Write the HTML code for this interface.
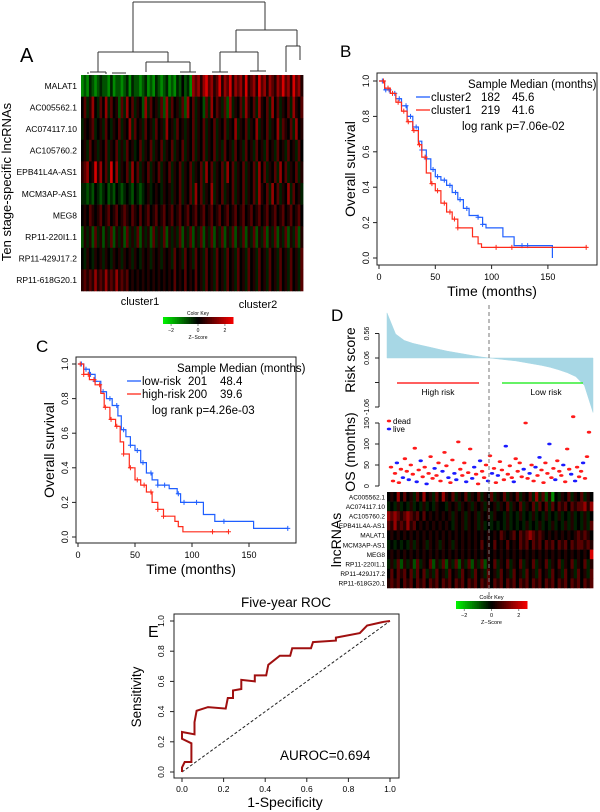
<!DOCTYPE html>
<html><head><meta charset="utf-8">
<style>
html,body{margin:0;padding:0;background:#fff;}
svg{display:block;font-family:"Liberation Sans",Arial,sans-serif;}
</style></head>
<body>
<svg id="fig" width="600" height="812" viewBox="0 0 600 812" xmlns="http://www.w3.org/2000/svg">
<g id="A">
 <text x="20" y="62" font-size="20">A</text>
 <g stroke="#333" stroke-width="1" fill="none">
  <path d="M133,2H265 M133,2V52 M98,52H168 M98,52V72 M168,52V62 M146,62H190 M146,62V72 M190,62V72 M265,2V30 M236,30H297 M236,30V52 M220,52H258 M220,52V72 M258,52V71 M297,30V46 M286,46H300 M286,46V72 M300,46V60 M90,72H106 M112,73H126 M180,72H196 M212,72H228 M250,71H266 M88,74V72 M106,74V72"/>
 </g>
 <g id="hmA"></g>
 <g id="hmAlabels" font-size="8.5" text-anchor="end"></g>
 <text transform="translate(11,182) rotate(-90)" font-size="13" text-anchor="middle">Ten stage-specific lncRNAs</text>
 <text x="140" y="305" font-size="11" text-anchor="middle">cluster1</text>
 <text x="258" y="308" font-size="11" text-anchor="middle">cluster2</text>
 <g id="keyA"></g>
</g>
<g id="B">
 <text x="340" y="57" font-size="17">B</text>
</g>
<g id="C">
 <text x="36" y="352" font-size="17">C</text>
</g>
<g id="D">
 <text x="331" y="321" font-size="17">D</text>
</g>
<g id="E">
 <text x="148" y="637" font-size="16">E</text>
</g>
</svg>
<script>
// ---------- DATA ----------
const hmARows = ["MALAT1","AC005562.1","AC074117.10","AC105760.2","EPB41L4A-AS1","MCM3AP-AS1","MEG8","RP11-220I1.1","RP11-429J17.2","RP11-618G20.1"];
const hmAValues = [
 "121321232213122123132212312132123121324231767578675685768576758567586757657686758675",
 "463574364736452637463542736453627364536274635426374653627354637546375463746354637546",
 "354563453643546354736453645364537453645354635463546354635473546354735463547365463745",
 "453645354635463536453463546354635463546354635463546353645364536453645364536453645364",
 "567458574638473546374635463546354635463546354637463546374635463546374635463746354635",
 "332324323423243234324323453454354535463546374635473546354635463546375463746354736453",
 "454654564564564565465464564564564564564564564564564564564564564564564564564564564564",
 "253526352536253526353625352635362535362536253625362536253625362536253625362536253625",
 "435435453543545354535435453545354536453645364536453645364536453645364536453645364536",
 "565657565756575656454545454545454546454645464536453645364536453645364536453645364536"];
const kmBTime2 = [0,5,10,15,20,25,30,35,38,42,46,50,55,60,65,70,75,80,88,92,95,108,110,120,154,154];
const kmBSurv2 = [1,0.95,0.93,0.9,0.86,0.8,0.74,0.66,0.61,0.56,0.5,0.46,0.44,0.41,0.37,0.33,0.28,0.24,0.23,0.19,0.17,0.17,0.12,0.07,0.07,0.0];
const kmBTime1 = [0,5,10,15,20,25,30,35,38,42,46,50,55,60,65,70,80,83,88,91,185];
const kmBSurv1 = [1,0.96,0.93,0.88,0.83,0.77,0.72,0.64,0.57,0.48,0.42,0.38,0.31,0.26,0.22,0.17,0.17,0.12,0.08,0.06,0.06];
const kmBCens2 = [3,6,9,14,18,24,28,33,38,42,48,52,58,63,68,72,78,88,92,127,132];
const kmBCens1 = [4,8,12,17,22,26,31,36,41,47,52,58,63,67,70,104,118,184];
const kmCTime1 = [0,5,10,15,20,25,30,35,38,42,46,50,55,60,65,70,80,87,90,105,110,120,154,154,184];
const kmCSurv1 = [1,0.97,0.94,0.9,0.84,0.8,0.76,0.7,0.62,0.58,0.53,0.5,0.43,0.37,0.33,0.3,0.28,0.25,0.2,0.2,0.13,0.09,0.09,0.05,0.05];
const kmCTime2 = [0,5,10,15,20,23,28,33,37,40,45,50,55,60,65,70,75,85,88,92,132];
const kmCSurv2 = [1,0.94,0.91,0.88,0.83,0.75,0.68,0.64,0.55,0.48,0.4,0.33,0.3,0.26,0.2,0.16,0.12,0.09,0.06,0.03,0.03];
const kmCCens1 = [3,7,11,15,22,28,34,40,46,52,57,64,70,76,88,93,104,128,184];
const kmCCens2 = [2,5,9,14,19,24,29,34,40,46,52,58,64,70,75,118,132];
const riskValues = [0.98,0.55,0.42,0.36,0.32,0.28,0.24,0.2,0.17,0.14,0.11,0.08,0.06,0.04,0.02,0.0,-0.03,-0.06,-0.09,-0.13,-0.18,-0.24,-0.32,-0.5,-1.05];
const riskTicks = [0.56,0.06,-0.44,-0.94];
const riskTickLabels = ["0.56","0.06","","-1.06"];
const osValues = [45,12,30,55,8,40,20,65,35,15,50,28,90,10,38,60,22,45,5,30,70,18,42,25,55,12,35,80,48,20,8,62,30,15,105,40,25,55,10,32,88,18,45,28,5,60,35,20,50,12,72,30,42,8,25,58,38,15,95,28,48,20,10,65,35,55,22,40,150,18,30,50,12,45,25,68,38,8,55,30,100,20,42,15,60,35,25,50,10,88,40,28,165,12,45,22,35,55,18,70,128];
const osStatus = "1110110110111010110111011101101100111101100110111010110111011101111011011010111101101110111010111011";
const osTicks = [0,50,100,150];
const hmDRows = ["AC005562.1","AC074117.10","AC105760.2","EPB41L4A-AS1","MALAT1","MCM3AP-AS1","MEG8","RP11-220I1.1","RP11-429J17.2","RP11-618G20.1"];
const hmDValues = [
 "4547464536474536475463546354635463546354635463736251435463546354",
 "3435343534353435443545354535453545354635463546364636465646566757",
 "7676567656464545454535453545354535443534353435343534353435343534",
 "6575657564545454545435453545353434343534343534353435343535343536",
 "4545454545454545454545454545454545465456465676565454545454565654",
 "3434343535453545354535454545464546454645465646564656465646566565",
 "4545454545454545454545454545454545454545454545454545454545454548",
 "3536253526354625362536253625362546354635463546354635463546354635",
 "4646564636463536453645364536453645364536453645364536453645364536",
 "5656465646564656465646564656465646564656465646564656465646564656"];
const rocFpr = [0,0,0.013,0.045,0.045,0,0,0.06,0.06,0.07,0.125,0.21,0.22,0.245,0.245,0.285,0.285,0.35,0.35,0.405,0.415,0.47,0.52,0.53,0.62,0.63,0.74,0.74,0.855,0.89,0.97,1];
const rocTpr = [0,0.03,0.066,0.066,0.19,0.22,0.265,0.25,0.33,0.405,0.43,0.42,0.49,0.49,0.54,0.55,0.61,0.6,0.64,0.64,0.71,0.77,0.77,0.82,0.82,0.86,0.87,0.89,0.92,0.97,0.995,1];
const keyTicks = [-2,0,2];

// ---------- helpers ----------
const NS="http://www.w3.org/2000/svg";
function mk(tag,attrs,parent){const e=document.createElementNS(NS,tag);for(const k in attrs)e.setAttribute(k,attrs[k]);parent.appendChild(e);return e;}
function zcol(c){const v=(c-4)/4;if(v<0){return "rgb(0,"+Math.round(200*Math.pow(-v,1.3))+",0)";}return "rgb("+Math.round(215*Math.pow(v,1.3))+",0,0)";}
function keycol(c){const v=(c-4)/4;if(v<0){return "rgb(0,"+Math.round(240*(-v))+",0)";}return "rgb("+Math.round(240*v)+",0,0)";}
function heat(g,rows,x0,x1,y0,y1){
 const rh=(y1-y0)/rows.length;
 rows.forEach((s,r)=>{const cw=(x1-x0)/s.length;
  for(let i=0;i<s.length;i++){const el=mk("rect",{x:(x0+i*cw).toFixed(2),y:(y0+r*rh).toFixed(2),width:(cw+0.4).toFixed(2),height:(rh+0.3).toFixed(2),fill:zcol(+s[i])},g);
   
   }
 });
}
function colorKey(g,x0,x1,y0,y1,fs){
 const n=40;for(let i=0;i<n;i++){const el=mk("rect",{x:x0+(x1-x0)*i/n,y:y0,width:(x1-x0)/n+0.5,height:y1-y0,fill:keycol(i*8/(n-1))},g);
  
  }
 const t=mk("text",{x:(x0+x1)/2,y:y0-2,"font-size":fs,"text-anchor":"middle"},g);t.textContent="Color Key";
 
 
 keyTicks.forEach(v=>{const x=x0+(x1-x0)*(v+2.6)/5.2;
  mk("line",{x1:x,x2:x,y1:y1,y2:y1+2,stroke:"#444","stroke-width":0.6},g);
  const tt=mk("text",{x:x,y:y1+8,"font-size":fs,"text-anchor":"middle"},g);tt.textContent=String(v).replace("-","−");
  
  });
 const z=mk("text",{x:(x0+x1)/2,y:y1+15,"font-size":fs,"text-anchor":"middle"},g);z.textContent="Z−Score";
 
 
}
function stepPath(T,S,xs,ys){let d="M"+xs(T[0])+","+ys(S[0]);for(let i=1;i<T.length;i++){d+="H"+xs(T[i]).toFixed(1)+"V"+ys(S[i]).toFixed(1);}return d;}
function survAt(T,S,t){let s=S[0];for(let i=0;i<T.length;i++){if(T[i]<=t)s=S[i];}return s;}
function txt(g,x,y,s,fs,anchor,name,rot){const a={x:x,y:y,"font-size":fs,"text-anchor":anchor||"start"};if(rot)a.transform="rotate(-90 "+x+" "+y+")";const t=mk("text",a,g);t.textContent=s;return t;}

// ---------- Panel A ----------
(function(){
 const g=document.getElementById("hmA");heat(g,hmAValues,81,303,75,291);
 const lg=document.getElementById("hmAlabels");const rh=216/hmARows.length;
 hmARows.forEach((n,i)=>{const t=mk("text",{x:77,y:75+rh*(i+0.5)+3},lg);t.textContent=n;});
 colorKey(document.getElementById("keyA"),163,233,317,324,5);
})();

// ---------- KM ----------
function km(gid,box,xs,ys,series,legend){
 const g=document.getElementById(gid);
 const b=mk("rect",{x:box[0],y:box[1],width:box[2]-box[0],height:box[3]-box[1],fill:"none",stroke:"#222","stroke-width":1},g);
 
 [0,50,100,150].forEach(v=>{const x=xs(v);mk("line",{x1:x,x2:x,y1:box[3],y2:box[3]+4,stroke:"#222"},g);txt(g,x,box[3]+15,String(v),9,"middle","x-tick-label");});
 [0,0.2,0.4,0.6,0.8,1.0].forEach(v=>{const y=ys(v);mk("line",{x1:box[0],x2:box[0]-4,y1:y,y2:y,stroke:"#222"},g);txt(g,box[0]-8,y,v.toFixed(1),9,"middle","y-tick-label",true);});
 txt(g,(box[0]+box[2])/2+5,box[3]+31,"Time (months)",14,"middle","x-axis-title");
 txt(g,box[0]-22,(box[1]+box[3])/2,"Overall survival",14,"middle","y-axis-title",true);
 series.forEach(s=>{
  const p=mk("path",{d:stepPath(s.T,s.S,xs,ys),fill:"none",stroke:s.c,"stroke-width":1.2},g);
  
  s.cens.forEach(t=>{const x=xs(t),y=ys(survAt(s.T,s.S,t));
   const m=mk("path",{d:"M"+(x-2.5)+","+y+"H"+(x+2.5)+"M"+x+","+(y-2.5)+"V"+(y+2.5),stroke:s.c,"stroke-width":1},g);
   });
 });
 const L=legend;
 txt(g,L.x0,L.y0,"Sample Median (months)",11.5,"start","legend-header");
 L.rows.forEach((r,i)=>{const y=L.y0+13*(i+1);
  mk("line",{x1:L.lx,x2:L.lx+14,y1:y-4,y2:y-4,stroke:r.c,"stroke-width":1.3},g);
  txt(g,L.lx+15,y,r.n,11.5,"start","legend-entry");txt(g,L.nx,y,r.a,11.5,"start","legend-count");txt(g,L.mx,y,r.m,11.5,"start","legend-median");});
 txt(g,L.px,L.y0+13*3+3,L.p,11.5,"start","log-rank-p");
}
km("B",[377,73,597,265],t=>379+t*1.126,s=>258-s*177,[
 {T:kmBTime2,S:kmBSurv2,c:"#1f5fff",cens:kmBCens2,name:"cluster2"},
 {T:kmBTime1,S:kmBSurv1,c:"#ff2a1a",cens:kmBCens1,name:"cluster1"}],
 {x0:468,y0:88,lx:416,nx:481,mx:512,px:462,p:"log rank p=7.06e-02",rows:[{n:"cluster2",a:"182",m:"45.6",c:"#1f5fff"},{n:"cluster1",a:"219",m:"41.6",c:"#ff2a1a"}]});
km("C",[76,357,296,543],t=>78+t*1.14,s=>537-s*173,[
 {T:kmCTime1,S:kmCSurv1,c:"#1f5fff",cens:kmCCens1,name:"low-risk"},
 {T:kmCTime2,S:kmCSurv2,c:"#ff2a1a",cens:kmCCens2,name:"high-risk"}],
 {x0:177,y0:372,lx:127,nx:188,mx:220,px:152,p:"log rank p=4.26e-03",rows:[{n:"low-risk",a:"201",m:"48.4",c:"#1f5fff"},{n:"high-risk",a:"200",m:"39.6",c:"#ff2a1a"}]});

// ---------- Panel D ----------
(function(){
 const g=document.getElementById("D");
 const X0=387,X1=593;
 const ry=v=>358-(v-0.06)*49;
 let d="M"+X0+","+ry(0.06);
 riskValues.forEach((v,i)=>{d+="L"+(X0+(X1-X0)*i/(riskValues.length-1)).toFixed(1)+","+ry(v).toFixed(1);});
 d+="L"+X1+","+ry(0.06)+"Z";
 const a=mk("path",{d:d,fill:"#a7d7e5",stroke:"#a7d7e5","stroke-width":0.5},g);
 
 mk("line",{x1:379,x2:379,y1:ry(riskTicks[0]),y2:ry(riskTicks[3]),stroke:"#222"},g);
 riskTicks.forEach((v,i)=>{const y=ry(v);mk("line",{x1:379,x2:375,y1:y,y2:y,stroke:"#222"},g);txt(g,369,y,riskTickLabels[i],7,"middle","risk-tick-label",true);});
 txt(g,355,360,"Risk score",14,"middle","risk-score-axis-title",true);
 mk("line",{x1:397,x2:479,y1:383,y2:383,stroke:"#ff2a2a","stroke-width":1.5},g);
 mk("line",{x1:502,x2:583,y1:383,y2:383,stroke:"#33ee33","stroke-width":1.5},g);
 txt(g,438,395,"High risk",8.5,"middle","high-risk-label");
 txt(g,546,395,"Low risk",8.5,"middle","low-risk-label");
 const oy=v=>486-v*0.42;
 mk("line",{x1:379,x2:379,y1:oy(0),y2:oy(150),stroke:"#222"},g);
 osTicks.forEach(v=>{const y=oy(v);mk("line",{x1:379,x2:375,y1:y,y2:y,stroke:"#222"},g);txt(g,369,y,String(v),7,"middle","os-tick-label",true);});
 txt(g,355,452,"OS (months)",14,"middle","os-axis-title",true);
 osValues.forEach((v,i)=>{const x=X0+4+(X1-X0-8)*i/(osValues.length-1);const dead=osStatus.charAt(i)!=="0";
  const e=mk("ellipse",{cx:x.toFixed(1),cy:oy(v).toFixed(1),rx:2.2,ry:1.4,fill:dead?"#ff1a1a":"#1a1aff"},g);
  });
 mk("ellipse",{cx:389,cy:421,rx:2.2,ry:1.4,fill:"#ff1a1a"},g);txt(g,393,424,"dead",8,"start","legend-dead");
 mk("ellipse",{cx:389,cy:429,rx:2.2,ry:1.4,fill:"#1a1aff"},g);txt(g,393,432,"live",8,"start","legend-live");
 const hg=mk("g",{},g);
 heat(hg,hmDValues,X0,X1,492,588);
 const rh=96/hmDRows.length;
 hmDRows.forEach((n,i)=>txt(g,385,492+rh*(i+0.5)+2.5,n,6.5,"end","heatmap-d-row-label"));
 txt(g,341,540,"lncRNAs",14,"middle","lncrnas-axis-title",true);
 const dl=mk("line",{x1:489,x2:489,y1:305,y2:598,stroke:"#777","stroke-width":1,"stroke-dasharray":"4,3"},g);
 
 const kg=mk("g",{},g);
 colorKey(kg,456,527,601,609,5.5);
})();

// ---------- Panel E ----------
(function(){
 const g=document.getElementById("E");
 const xs=f=>182+f*208, ys=t=>772-t*151;
 const b=mk("rect",{x:174,y:614,width:225,height:164,fill:"none",stroke:"#222"},g);
 
 [0,0.2,0.4,0.6,0.8,1.0].forEach(v=>{
  mk("line",{x1:xs(v),x2:xs(v),y1:778,y2:782,stroke:"#222"},g);txt(g,xs(v),792,v.toFixed(1),8.5,"middle","x-tick-label");
  mk("line",{x1:174,x2:170,y1:ys(v),y2:ys(v),stroke:"#222"},g);txt(g,164,ys(v),v.toFixed(1),8.5,"middle","y-tick-label",true);});
 txt(g,286,607,"Five-year ROC",13.5,"middle","roc-title");
 txt(g,285,807,"1-Specificity",14,"middle","x-axis-title");
 txt(g,141,697,"Sensitivity",13.5,"middle","y-axis-title",true);
 mk("line",{x1:xs(0),y1:ys(0),x2:xs(1),y2:ys(1),stroke:"#222","stroke-dasharray":"3,2"},g);
 let d="";rocFpr.forEach((f,i)=>{d+=(i?"L":"M")+xs(f).toFixed(1)+","+ys(rocTpr[i]).toFixed(1);});
 const p=mk("path",{d:d,fill:"none",stroke:"#a01010","stroke-width":2},g);
 
 txt(g,280,760,"AUROC=0.694",13.5,"start","auroc-label");
})();
</script>
</body></html>
